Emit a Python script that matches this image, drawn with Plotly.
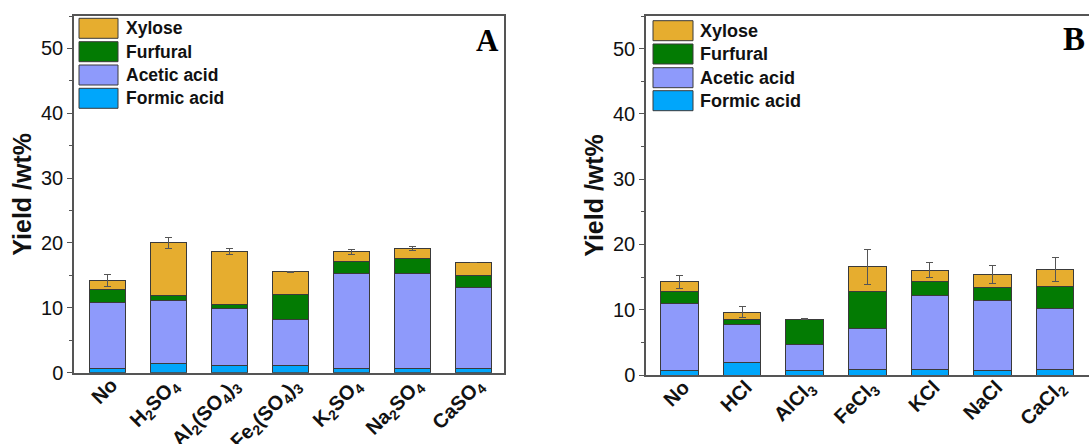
import plotly.graph_objects as go

# ---------------- data ----------------
cats_a = ["No", "H<sub>2</sub>SO<sub>4</sub>", "Al<sub>2</sub>(SO<sub>4</sub>)<sub>3</sub>",
          "Fe<sub>2</sub>(SO<sub>4</sub>)<sub>3</sub>", "K<sub>2</sub>SO<sub>4</sub>",
          "Na<sub>2</sub>SO<sub>4</sub>", "CaSO<sub>4</sub>"]
formic_a = [0.62, 1.39, 1.13, 1.13, 0.72, 0.72, 0.72]
acetic_a = [10.28, 9.71, 8.75, 7.10, 14.51, 14.61, 12.35]
furfural_a = [1.86, 0.73, 0.67, 3.81, 1.95, 2.26, 1.95]
xylose_a = [1.44, 8.23, 8.17, 3.49, 1.44, 1.49, 2.01]
err_a = [0.9, 0.85, 0.44, 0.13, 0.36, 0.31, None]

cats_b = ["No", "HCl", "AlCl<sub>3</sub>", "FeCl<sub>3</sub>", "KCl", "NaCl", "CaCl<sub>2</sub>"]
formic_b = [0.66, 1.89, 0.66, 0.82, 0.77, 0.66, 0.77]
acetic_b = [10.32, 5.87, 3.94, 6.23, 11.39, 10.78, 9.39]
furfural_b = [1.84, 0.67, 3.93, 5.77, 2.09, 2.04, 3.43]
xylose_b = [1.43, 1.22, 0.05, 3.73, 1.79, 1.89, 2.55]
err_b = [1.0, 0.82, 0.05, 2.7, 1.17, 1.38, 1.79]

series_names = ["Formic acid", "Acetic acid", "Furfural", "Xylose"]
colors = {"Formic acid": "#00A6FB", "Acetic acid": "#8E9AFB",
          "Furfural": "#037B03", "Xylose": "#E6AD2F"}
y_ticks = [0, 10, 20, 30, 40, 50]

# ---------------- layout geometry ----------------
W, H = 1089, 444
ML, MR, MT, MB = 74, 0, 16, 69
PW, PH = W - ML - MR, H - MT - MB


def px(x):
    return (x - ML) / PW


def py(y):
    return (H - MB - y) / PH


fig = go.Figure()

panels = [
    (cats_a, [formic_a, acetic_a, furfural_a, xylose_a], err_a, "x", "y"),
    (cats_b, [formic_b, acetic_b, furfural_b, xylose_b], err_b, "x2", "y2"),
]
for cats, vals, err, xa, ya in panels:
    for name, v in zip(series_names, vals):
        kw = {}
        if name == "Xylose":
            kw["error_y"] = dict(type="data", array=err, color="#555555",
                                 thickness=1, width=3.5)
        fig.add_trace(go.Bar(
            x=cats, y=v, name=name, width=0.6,
            marker=dict(color=colors[name], line=dict(color="#3a3a3a", width=1)),
            xaxis=xa, yaxis=ya, showlegend=False, **kw))

axis_line = dict(showline=True, linecolor="#555555", linewidth=1.5, mirror=True,
                 showgrid=False, zeroline=False, automargin=False)
tickfont = dict(family="Liberation Sans, Arial, sans-serif", size=20, color="#111")
xtickfont = dict(family="Liberation Sans, Arial, sans-serif", size=20, color="#111")
ytitle = dict(text="<b>Yield /wt%</b>", font=dict(family="Liberation Sans, Arial, sans-serif",
                                                  size=25, color="#111"), standoff=2)

fig.update_layout(
    width=W, height=H, margin=dict(l=ML, r=MR, t=MT, b=MB),
    paper_bgcolor="white", plot_bgcolor="white", barmode="stack",
    xaxis=dict(domain=[0, px(504)], range=[-0.55, 6.5], ticks="",
               tickangle=-45, tickfont=xtickfont, ticklabelstandoff=-9,
               ticklabelshift=4, **axis_line),
    xaxis2=dict(domain=[px(646), 1], range=[-0.535, 6.54], ticks="",
                tickangle=-45, tickfont=xtickfont, ticklabelstandoff=-9,
                ticklabelshift=4, anchor="y2", **axis_line),
    yaxis=dict(domain=[py(372.7), 1], range=[0, 55], tickvals=y_ticks, ticks="outside",
               ticklen=5, tickcolor="#555555", tickfont=tickfont, title=ytitle,
               minor=dict(ticks="outside", ticklen=3, dtick=5, tickcolor="#555555"),
               **axis_line),
    yaxis2=dict(domain=[0, 1], range=[0, 55], tickvals=y_ticks, ticks="outside",
                ticklen=5, tickcolor="#555555", tickfont=tickfont, title=ytitle,
                minor=dict(ticks="outside", ticklen=3, dtick=5, tickcolor="#555555"),
                anchor="x2", **axis_line),
)

# bold x tick labels
for ax in ("xaxis", "xaxis2"):
    cats = cats_a if ax == "xaxis" else cats_b
    fig.layout[ax].tickvals = cats
    fig.layout[ax].ticktext = ["<b>" + c + "</b>" for c in cats]

# ---------------- manual legends ----------------
legend_order = ["Xylose", "Furfural", "Acetic acid", "Formic acid"]
legends = [
    (79, 118, [18.3, 41.7, 65.0, 88.3], 124, 17.5),
    (653, 693, [20.7, 44.0, 67.7, 90.7], 698, 18),
]
for x0, x1, tops, tx, fs in legends:
    for name, top in zip(legend_order, tops):
        fig.add_shape(type="rect", xref="paper", yref="paper",
                      x0=px(x0), x1=px(x1), y0=py(top + 20), y1=py(top),
                      fillcolor=colors[name], line=dict(color="#3a3a3a", width=1))
        fig.add_annotation(xref="paper", yref="paper", x=px(tx), y=py(top + 10),
                           text="<b>" + name + "</b>", showarrow=False,
                           xanchor="left", yanchor="middle",
                           font=dict(family="Liberation Sans, Arial, sans-serif",
                                     size=fs, color="#111"))

# panel letters
for letter, cx, cy, fs in [("A", 487.5, 40, 31), ("B", 1074, 39, 33)]:
    fig.add_annotation(xref="paper", yref="paper", x=px(cx), y=py(cy), text="<b>" + letter + "</b>",
                       showarrow=False, xanchor="center", yanchor="middle",
                       font=dict(family="Liberation Serif, Times New Roman, serif",
                                 size=fs, color="#000"))

fig.write_html("out.html", config={"displayModeBar": False},
               post_script="document.body.style.margin='0px';document.body.style.overflow='hidden';")
